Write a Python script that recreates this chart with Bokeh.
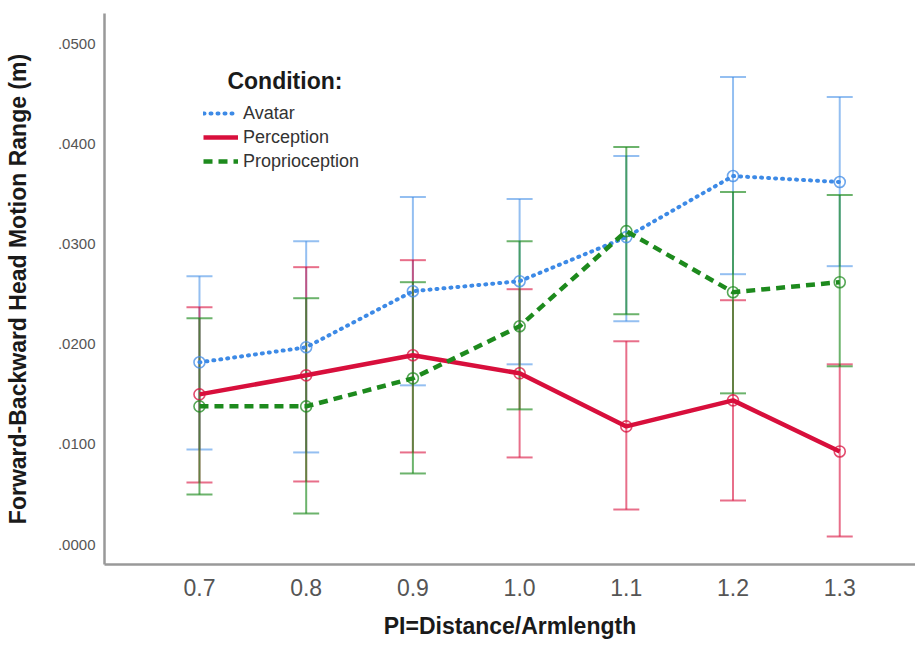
from bokeh.plotting import figure
from bokeh.models import (ColumnDataSource, Whisker, TeeHead, Range1d, FixedTicker,
                          CustomJSTickFormatter, Legend, LegendItem, Label)
from bokeh.embed import file_html
from bokeh.resources import INLINE

# ---- data ----
pi_values = [0.7, 0.8, 0.9, 1.0, 1.1, 1.2, 1.3]

avatar_mean = [0.0182, 0.0197, 0.0253, 0.0263, 0.0307, 0.0368, 0.0362]
avatar_low = [0.0095, 0.0092, 0.0159, 0.0180, 0.0223, 0.0270, 0.0278]
avatar_high = [0.0268, 0.0303, 0.0347, 0.0345, 0.0388, 0.0467, 0.0447]

perception_mean = [0.0150, 0.0169, 0.0189, 0.0171, 0.0118, 0.0144, 0.0093]
perception_low = [0.0062, 0.0063, 0.0092, 0.0087, 0.0035, 0.0044, 0.0008]
perception_high = [0.0237, 0.0277, 0.0284, 0.0255, 0.0203, 0.0244, 0.0180]

proprio_mean = [0.0138, 0.0138, 0.0166, 0.0218, 0.0313, 0.0252, 0.0262]
proprio_low = [0.0050, 0.0031, 0.0071, 0.0135, 0.0230, 0.0151, 0.0178]
proprio_high = [0.0226, 0.0246, 0.0262, 0.0303, 0.0397, 0.0352, 0.0349]

x_ticks = [0.7, 0.8, 0.9, 1.0, 1.1, 1.2, 1.3]
y_ticks = [0.0, 0.01, 0.02, 0.03, 0.04, 0.05]

series_names = ["Avatar", "Perception", "Proprioception"]
# ------------------------------------------------

FONT = "Liberation Sans"

p = figure(width=915, height=641, output_backend="svg", toolbar_location=None,
           x_range=Range1d(0.611, 1.371), y_range=Range1d(-0.00199, 0.05303),
           min_border_left=104, min_border_right=0, min_border_top=13,
           min_border_bottom=74)
p.outline_line_color = None
p.xgrid.visible = False
p.ygrid.visible = False
p.background_fill_color = "white"
p.border_fill_color = "white"

styles = [
    dict(color="#3d8ae6", dash="1 6", cap="round", width=4, err_alpha=0.55),
    dict(color="#d80f3c", dash="solid", cap="butt", width=4.5, err_alpha=0.6),
    dict(color="#1d8a1d", dash="9 6", cap="butt", width=4.5, err_alpha=0.65),
]
data = [
    (avatar_mean, avatar_low, avatar_high),
    (perception_mean, perception_low, perception_high),
    (proprio_mean, proprio_low, proprio_high),
]

# error bars first
for (mean, low, high), st in zip(data, styles):
    src = ColumnDataSource(dict(x=pi_values, mean=mean, low=low, high=high))
    w = Whisker(base="x", lower="low", upper="high", source=src,
                line_color=st["color"], line_alpha=st["err_alpha"], line_width=2,
                upper_head=TeeHead(size=26, line_color=st["color"],
                                   line_alpha=st["err_alpha"], line_width=2),
                lower_head=TeeHead(size=26, line_color=st["color"],
                                   line_alpha=st["err_alpha"], line_width=2))
    p.add_layout(w)

items = []
for name, (mean, low, high), st in zip(series_names, data, styles):
    src = ColumnDataSource(dict(x=pi_values, mean=mean))
    r = p.line("x", "mean", source=src, line_color=st["color"], line_width=st["width"],
               line_dash=st["dash"], line_cap=st["cap"])
    p.scatter("x", "mean", source=src, marker="circle", size=11, fill_alpha=0,
              line_color=st["color"], line_width=1.6, line_alpha=0.75)
    items.append(LegendItem(label=name, renderers=[r]))

legend = Legend(items=items, location=(99, 391), orientation="vertical",
                glyph_width=35, glyph_height=24, label_height=24, spacing=0,
                padding=0, margin=0, label_standoff=5,
                label_text_font=FONT, label_text_font_size="18px",
                label_text_color="#333333",
                border_line_color=None, background_fill_alpha=0)
p.add_layout(legend, "center")

p.add_layout(Label(x=0.7262, y=0.0463, text="Condition:", text_font=FONT,
                   text_font_size="23px", text_font_style="bold",
                   text_color="#1a1a1a", text_baseline="alphabetic"))

# axes
for ax in (p.xaxis[0], p.yaxis[0]):
    ax.axis_line_color = "#999999"
    ax.axis_line_width = 2.5
    ax.major_tick_line_color = None
    ax.minor_tick_line_color = None
    ax.major_tick_out = 0
    ax.major_tick_in = 0
    ax.major_label_text_font = FONT
    ax.major_label_text_color = "#555555"
    ax.axis_label_text_font = FONT
    ax.axis_label_text_font_style = "bold"
    ax.axis_label_text_color = "#1a1a1a"
    ax.axis_label_text_font_size = "23px"

p.xaxis.ticker = FixedTicker(ticks=x_ticks)
p.xaxis.formatter = CustomJSTickFormatter(code="return tick.toFixed(1);")
p.xaxis.major_label_text_font_size = "23px"
p.xaxis.major_label_standoff = 14
p.xaxis.axis_label = "PI=Distance/Armlength"
p.xaxis.axis_label_standoff = 14

p.yaxis.ticker = FixedTicker(ticks=y_ticks)
p.yaxis.formatter = CustomJSTickFormatter(code="return tick.toFixed(4).replace(/^0/, '');")
p.yaxis.major_label_text_font_size = "15px"
p.yaxis.major_label_standoff = 9
p.yaxis.axis_label = "Forward-Backward Head Motion Range (m)"
p.yaxis.axis_label_standoff = 24

with open("out.html", "w") as f:
    f.write(file_html(p, INLINE))
